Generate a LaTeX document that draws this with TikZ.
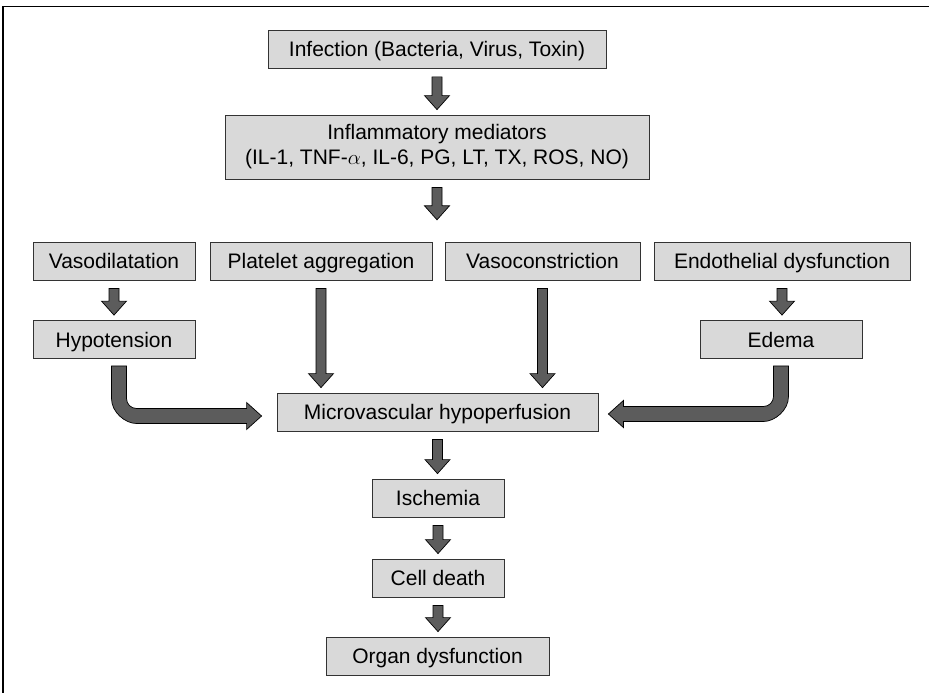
\documentclass[tikz,border=0pt]{standalone}
\usepackage{amsmath}
\usepackage{fontspec}
\setmainfont{Liberation Sans}
\usepackage{tikz}
\usetikzlibrary{calc}

\definecolor{boxgray}{RGB}{217,217,217}
\definecolor{arrgray}{RGB}{92,92,92}

\tikzset{
  basebox/.style={draw=black!80,fill=boxgray,line width=.8pt,inner sep=0pt,
    minimum height=38pt,align=center,font=\fontsize{21}{25}\selectfont},
  box/.style={basebox,text height=19.5pt,text depth=4.5pt},
  blockarr/.style={fill=arrgray,draw=black,line width=.7pt,line join=miter}
}

% straight block arrow from #1 down to #2
\newcommand{\dnarr}[2]{\draw[blockarr] let \p1=(#1.south), \p2=(#2.north) in
  (\x1-5pt,\y1-8pt) -- (\x1+5pt,\y1-8pt) -- (\x1+5pt,\y2+19pt) -- (\x1+12.5pt,\y2+19pt)
  -- (\x1,\y2+5pt) -- (\x1-12.5pt,\y2+19pt) -- (\x1-5pt,\y2+19pt) -- cycle;}

\begin{document}
\begin{tikzpicture}[x=1pt,y=-1pt]
\useasboundingbox (0,0) rectangle (929,693);
\draw[line width=1.8pt] (929,6.5) -- (3,6.5) -- (3,693);

\node [box,minimum width=338pt] (inf)   at (437,49.5) {Infection (Bacteria, Virus, Toxin)};
\node [basebox,minimum width=424pt,minimum height=64pt] (infl) at (437,147)
      {Inflammatory mediators\\(IL-1, TNF-$\alpha$, IL-6, PG, LT, TX, ROS, NO)};
\node [inner sep=0pt,minimum size=0pt] (row) at (437,225) {};

\node [box,minimum width=162pt] (vasod) at (114,261)   {Vasodilatation};
\node [box,minimum width=222pt] (plat)  at (321,261)   {Platelet aggregation};
\node [box,minimum width=195pt] (vasoc) at (542.5,261) {Vasoconstriction};
\node [box,minimum width=256pt] (endo)  at (782,261)   {Endothelial dysfunction};
\node [box,minimum width=162pt] (hypo)  at (114,339.5) {Hypotension};
\node [box,minimum width=162pt] (edema) at (781,339.5) {Edema};

\node [box,minimum width=321pt] (micro) at (437.5,412) {Microvascular hypoperfusion};
\node [box,minimum width=132pt] (isch)  at (438,498)   {Ischemia};
\node [box,minimum width=132pt] (cell)  at (438,578)   {Cell death};
\node [box,minimum width=223pt] (organ) at (437.5,656) {Organ dysfunction};

\dnarr{inf}{infl}
\dnarr{infl}{row}
\dnarr{vasod}{hypo}
\dnarr{endo}{edema}
\dnarr{plat}{micro}
\dnarr{vasoc}{micro}
\dnarr{micro}{isch}
\dnarr{isch}{cell}
\dnarr{cell}{organ}

% bent arrows into the microvascular box
\draw[blockarr] let \p1=(hypo.south), \p2=(micro.west) in
  (\x1-2.5pt,\y1-7pt) -- (\x1-2.5pt,\y2-11.5pt+25pt)
  .. controls (\x1-2.5pt,\y2-11.5pt+11.2pt) and (\x1-2.5pt+13.8pt,\y2-11.5pt) .. (\x1+22.5pt,\y2-11.5pt)
  -- (\x2-30pt,\y2-11.5pt) -- (\x2-30pt,\y2-17.5pt) -- (\x2-15pt,\y2-4pt)
  -- (\x2-30pt,\y2+9.5pt) -- (\x2-30pt,\y2+3.5pt) -- (\x1+22.5pt,\y2+3.5pt)
  .. controls (\x1+17pt,\y2+3.5pt) and (\x1+12.5pt,\y2+8pt) .. (\x1+12.5pt,\y2+13.5pt)
  -- (\x1+12.5pt,\y1-7pt) -- cycle;
\draw[blockarr] let \p1=(edema.south), \p2=(micro.east) in
  (\x1+7.5pt,\y1-7pt) -- (\x1+7.5pt,\y2-9.5pt+25pt)
  .. controls (\x1+7.5pt,\y2-9.5pt+11.2pt) and (\x1+7.5pt-13.8pt,\y2-9.5pt) .. (\x1-17.5pt,\y2-9.5pt)
  -- (\x2+25pt,\y2-9.5pt) -- (\x2+25pt,\y2-15.5pt) -- (\x2+10pt,\y2-2pt)
  -- (\x2+25pt,\y2+11.5pt) -- (\x2+25pt,\y2+5.5pt) -- (\x1-17.5pt,\y2+5.5pt)
  .. controls (\x1-12pt,\y2+5.5pt) and (\x1-7.5pt,\y2+10pt) .. (\x1-7.5pt,\y2+15.5pt)
  -- (\x1-7.5pt,\y1-7pt) -- cycle;
\end{tikzpicture}
\end{document}
